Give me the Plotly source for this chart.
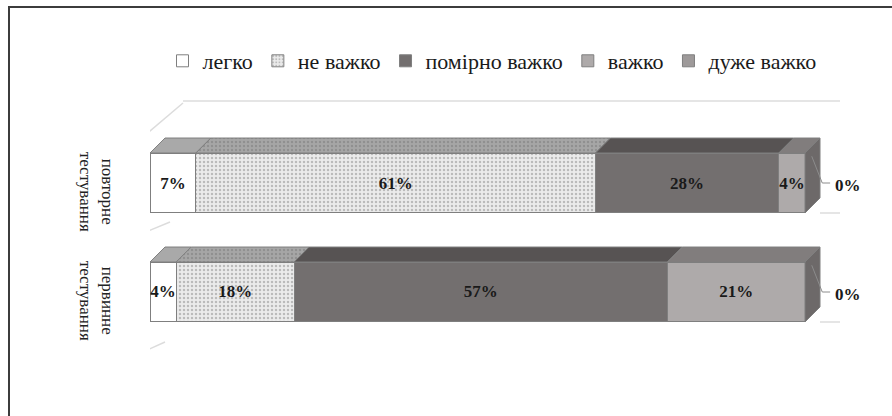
import plotly.graph_objects as go

# ---- data -------------------------------------------------------------
categories = ["первинне тестування", "повторне тестування"]   # bottom -> top
category_labels = ["первинне<br>тестування", "повторне<br>тестування"]
series_names = ["легко", "не важко", "помірно важко", "важко", "дуже важко"]

easy = [4, 7]
not_hard = [18, 61]
moderate = [57, 28]
hard = [21, 4]
very_hard = [0, 0]

series_values = [easy, not_hard, moderate, hard, very_hard]

# ---- styling ----------------------------------------------------------
FRONT = ["#ffffff", "#ebebeb", "#736f6f", "#aeaaaa", "#9e9a9a"]
TOPS = ["#a9a9a9", "#a6a6a6", "#575353", "#817d7d", "#7a7676"]
SIDE = "#6d6969"
EDGE = "#7f7f7f"
WALL = "#dcdcdc"
SERIF = "Liberation Serif, Times New Roman, serif"

W, H = 892, 416
ML, MR, MT, MB = 150, 22, 80, 36
PX_PER_X = 6.55          # pixels per percentage point
PX_PER_Y = 109           # pixels between category rows
Y0_PX = 292              # pixel row of the first category centre

BAR_W = 0.55
DEPTH_X = 15 / PX_PER_X
DEPTH_Y = 15 / PX_PER_Y

x_range = [0, (W - ML - MR) / PX_PER_X]
y_range = [-(H - MB - Y0_PX) / PX_PER_Y, (Y0_PX - MT) / PX_PER_Y]


def gx(px):
    return (px - ML) / PX_PER_X


def gy(py):
    return (Y0_PX - py) / PX_PER_Y


def paper_x(px):
    return (px - ML) / (W - ML - MR)


def paper_y(py):
    return (H - MB - py) / (H - MT - MB)


y_pos = list(range(len(categories)))
label_font = dict(family=SERIF, size=17, color="#1a1a1a", weight="bold")

fig = go.Figure()

# front faces of the stacked bars
for i, (name, vals) in enumerate(zip(series_names, series_values)):
    marker = dict(color=FRONT[i], line=dict(color=EDGE, width=1))
    if name == "не важко":
        marker["pattern"] = dict(shape=".", fgcolor="#8a8a8a", bgcolor=FRONT[i],
                                 size=4, solidity=0.3)
    fig.add_trace(go.Bar(
        y=y_pos, x=vals, orientation="h", name=name, width=BAR_W,
        marker=marker,
        text=[f"{v}%" if v > 0 else "" for v in vals],
        textposition="inside", insidetextanchor="middle", textangle=0,
        constraintext="none",
        textfont=label_font, insidetextfont=label_font,
        hoverinfo="skip",
    ))

# top faces (depth) of every segment
cum = [0.0] * len(categories)
for i, vals in enumerate(series_values):
    xs, ys = [], []
    for j, v in enumerate(vals):
        x0, x1 = cum[j], cum[j] + v
        yt = y_pos[j] + BAR_W / 2
        if v > 0:
            xs += [x0, x1, x1 + DEPTH_X, x0 + DEPTH_X, x0, None]
            ys += [yt, yt, yt + DEPTH_Y, yt + DEPTH_Y, yt, None]
        cum[j] = x1
    if xs:
        trace = dict(x=xs, y=ys, mode="lines", fill="toself", fillcolor=TOPS[i],
                     line=dict(color=EDGE, width=1), showlegend=False,
                     hoverinfo="skip")
        if series_names[i] == "не важко":
            trace["fillpattern"] = dict(shape=".", fgcolor="#7a7a7a",
                                        bgcolor=TOPS[i], size=4, solidity=0.3)
        fig.add_trace(go.Scatter(**trace))

# right-hand end cap of each stack
xs, ys = [], []
for j, total in enumerate(cum):
    yb = y_pos[j] - BAR_W / 2
    yt = y_pos[j] + BAR_W / 2
    xs += [total, total, total + DEPTH_X, total + DEPTH_X, total, None]
    ys += [yb, yt, yt + DEPTH_Y, yb + DEPTH_Y, yb, None]
fig.add_trace(go.Scatter(x=xs, y=ys, mode="lines", fill="toself", fillcolor=SIDE,
                         line=dict(color=EDGE, width=1), showlegend=False,
                         hoverinfo="skip"))

# leader lines and labels for the last series
for j, v in enumerate(very_hard):
    total = cum[j]
    yt = y_pos[j] + BAR_W / 2
    xm = total + DEPTH_X * 1.15
    fig.add_trace(go.Scatter(
        x=[total + DEPTH_X * 0.45, xm, xm + 1.2],
        y=[yt - 0.03, y_pos[j], y_pos[j]],
        mode="lines", line=dict(color="#8c8c8c", width=1),
        showlegend=False, hoverinfo="skip"))
    fig.add_annotation(x=xm + 1.7, y=y_pos[j] - 0.02, xref="x", yref="y",
                       text=f"{v}%", showarrow=False, xanchor="left",
                       yanchor="middle", font=label_font)

# faint walls of the 3-D plot box
wall_lines = [
    ((183, 101), (840, 101)),
    ((136, 143), (136, 357)),
    ((136, 143), (183, 103)),
    ((136, 236), (170, 222)),
    ((136, 355), (165, 342)),
    ((820, 213), (840, 213)),
    ((820, 322), (840, 322)),
]
for (ax_, ay_), (bx_, by_) in wall_lines:
    fig.add_shape(type="line", xref="x", yref="y", x0=gx(ax_), y0=gy(ay_),
                  x1=gx(bx_), y1=gy(by_), line=dict(color=WALL, width=1.5),
                  layer="below")

# category labels, rotated
for j, lab in enumerate(category_labels):
    fig.add_annotation(x=paper_x(96), y=y_pos[j] - 0.08, xref="paper", yref="y",
                       text=lab, textangle=90, showarrow=False,
                       xanchor="center", yanchor="middle",
                       font=dict(family=SERIF, size=17, color="#222222"))

# outer frame
fig.add_shape(type="rect", xref="paper", yref="paper",
              x0=paper_x(9), y0=paper_y(440), x1=paper_x(920), y1=paper_y(7),
              line=dict(color="#3c3c3c", width=2), layer="above")

fig.update_layout(
    width=W, height=H,
    margin=dict(l=ML, r=MR, t=MT, b=MB),
    barmode="stack",
    paper_bgcolor="white", plot_bgcolor="white",
    xaxis=dict(range=x_range, visible=False, fixedrange=True),
    yaxis=dict(range=y_range, visible=False, fixedrange=True),
    legend=dict(orientation="h", x=paper_x(492), xanchor="center",
                y=paper_y(40), yanchor="top", traceorder="normal",
                font=dict(family=SERIF, size=22, color="#1a1a1a"),
                bgcolor="rgba(0,0,0,0)", itemwidth=30),
    showlegend=True,
)

fig.write_html("out.html")
